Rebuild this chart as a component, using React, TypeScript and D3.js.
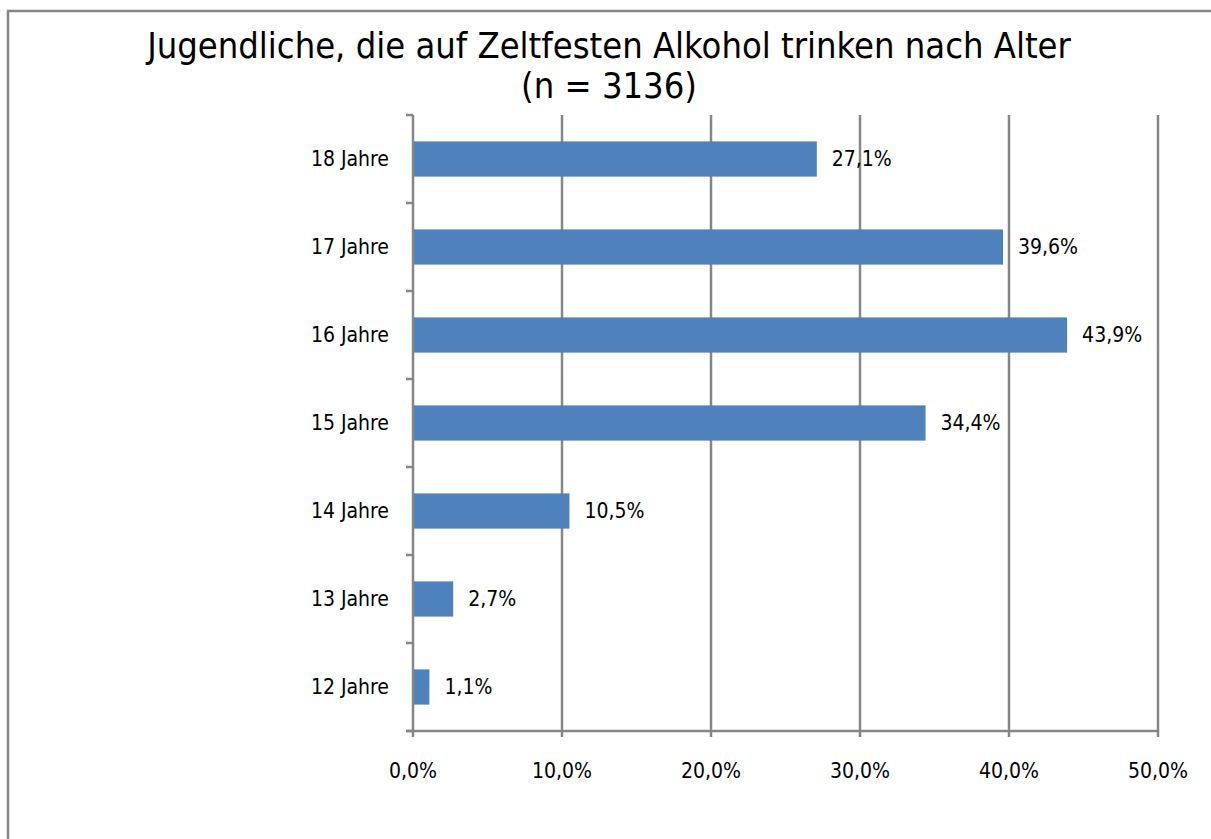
import React from "react";
import * as d3 from "d3";

const categories = ["18 Jahre", "17 Jahre", "16 Jahre", "15 Jahre", "14 Jahre", "13 Jahre", "12 Jahre"];
const values = [27.1, 39.6, 43.9, 34.4, 10.5, 2.7, 1.1];
const xTicks = [0, 10, 20, 30, 40, 50];
const titleLines = ["Jugendliche, die auf Zeltfesten Alkohol trinken nach Alter", "(n = 3136)"];

const W = 1211;
const H = 839;
const FONT = "'Liberation Sans Narrow', 'DejaVu Sans Condensed', 'Liberation Sans', sans-serif";
const fmt = (v: number) => v.toFixed(1).replace(".", ",") + "%";

export default function App() {
  const left = 413, right = 1158, top = 115, bottom = 731;
  const x = d3.scaleLinear().domain([0, 50]).range([left, right]);
  const y = d3.scaleBand().domain(categories).range([top, bottom]).paddingInner(0.6).paddingOuter(0.3);
  const band = (bottom - top) / categories.length;
  const grid = "#868686";
  return (
    <svg width={W} height={H} style={{ position: "absolute", left: 0, top: 0, display: "block" }}>
      <rect x={0} y={0} width={W} height={H} fill="#fff" />
      <rect x={8} y={11} width={W + 10} height={H + 10} fill="#fff" stroke={grid} strokeWidth={2.5} />
      {titleLines.map((t, i) => (
        <text key={i} x={609} y={58 + i * 40} textAnchor="middle" fontFamily={FONT} fontSize={36} fill="#000">{t}</text>
      ))}
      {xTicks.slice(1).map((t) => (
        <line key={t} x1={x(t)} x2={x(t)} y1={top} y2={bottom + 6} stroke={grid} strokeWidth={2.5} />
      ))}
      {categories.map((c, i) => (
        <g key={c}>
          <rect x={x(0)} y={y(c)!} width={x(values[i]) - x(0)} height={y.bandwidth()} fill="#4F81BD" />
          <text x={x(values[i]) + 15} y={y(c)! + y.bandwidth() / 2} dominantBaseline="central" fontFamily={FONT} fontSize={21} fill="#000">{fmt(values[i])}</text>
          <text x={389} y={y(c)! + y.bandwidth() / 2} textAnchor="end" dominantBaseline="central" fontFamily={FONT} fontSize={21} fill="#000">{c}</text>
        </g>
      ))}
      {d3.range(categories.length + 1).map((i) => (
        <line key={i} x1={left - 7} x2={left} y1={top + i * band} y2={top + i * band} stroke={grid} strokeWidth={2.5} />
      ))}
      <line x1={left} x2={left} y1={top} y2={bottom + 6} stroke={grid} strokeWidth={2.5} />
      <line x1={left - 7} x2={right} y1={bottom} y2={bottom} stroke={grid} strokeWidth={2.5} />
      {xTicks.map((t) => (
        <text key={t} x={x(t)} y={771} textAnchor="middle" dominantBaseline="central" fontFamily={FONT} fontSize={21} fill="#000">{fmt(t)}</text>
      ))}
    </svg>
  );
}
